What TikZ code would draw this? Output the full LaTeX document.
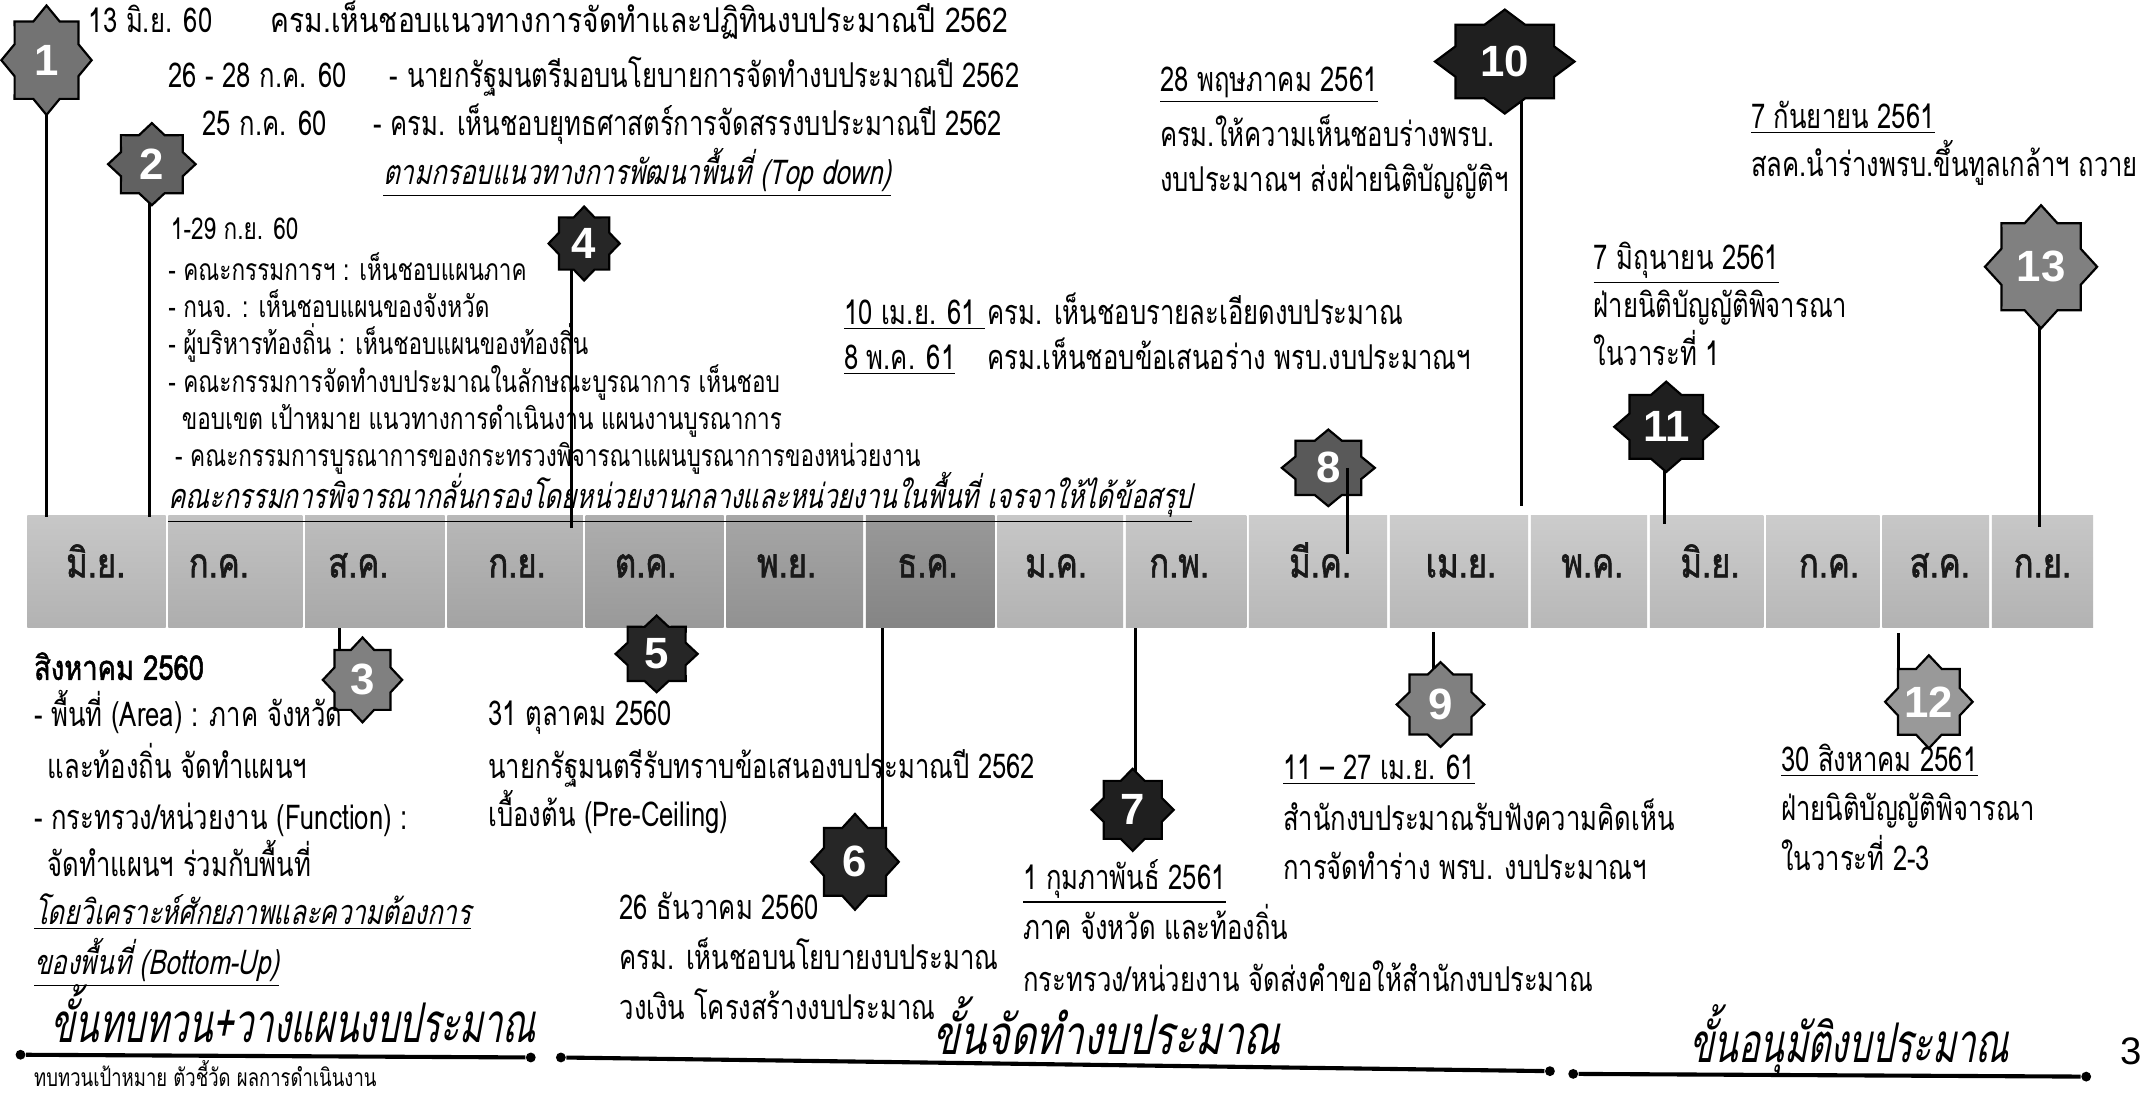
\documentclass[tikz,border=0pt]{standalone}
\usepackage{fontspec}
\usepackage{graphicx}
\newfontfamily\thai[Script=Thai,FakeStretch=0.75]{Loma}
\newfontfamily\thaiit[Script=Thai,FakeStretch=0.75,FakeSlant=0.22]{Loma}
\newfontfamily\thaibf[Script=Thai,FakeStretch=0.8,FakeBold=1.5]{Loma}
\newfontfamily\numf{Liberation Sans}
\usetikzlibrary{calc}
\tikzset{
 base/.style={anchor=base west,inner sep=0pt,outer sep=0pt,text height=7pt,text depth=2pt},
 txt/.style={base,font=\thai\fontsize{12.5}{14}\selectfont},
 lst/.style={base,font=\thai\fontsize{11}{13}\selectfont},
 itl/.style={base,font=\thaiit\fontsize{12.5}{14}\selectfont},
 bigt/.style={base,text height=9pt,font=\thaiit\fontsize{20}{22}\selectfont},
 smallt/.style={base,font=\thai\fontsize{9}{11}\selectfont},
 mon/.style={anchor=base,inner sep=0pt,text height=8pt,text depth=1pt,font=\thaibf\fontsize{15}{17}\selectfont,text=black!90},
 num/.style={inner sep=0pt,text=white,font=\numf\bfseries\fontsize{16}{18}\selectfont},
 stem/.style={line width=1.1pt},
 phase/.style={line width=1.5pt},
 enddot/.style={circle,fill=black,inner sep=0pt,minimum size=3.6pt},
}
\newcommand\starpoly[5]{%
 \begin{scope}[shift={(#1,#2)},xscale=#3,yscale=#4]
  \draw[fill=#5,line width=0.8pt,line join=miter] (0:1) -- (22.5:0.765) -- (45:1) -- (67.5:0.765) -- (90:1) -- (112.5:0.765) -- (135:1) -- (157.5:0.765) -- (180:1) -- (202.5:0.765) -- (225:1) -- (247.5:0.765) -- (270:1) -- (292.5:0.765) -- (315:1) -- (337.5:0.765) -- cycle;
 \end{scope}}
\newcommand\mycell[4]{\shade[top color=black!#3,bottom color=black!#4] (#1,377) rectangle (#2,459);}
\begin{document}
\begin{tikzpicture}[x=0.5pt,y=-0.5pt]
\useasboundingbox (0,0) rectangle (1568,800);
\fill[white] (0,0) rectangle (1568,800);
% ---------- month band ----------
\mycell{20}{121}{22}{30}
\mycell{123}{221}{24}{32}
\mycell{223}{325}{26}{34}
\mycell{327}{426}{28}{36}
\mycell{428}{529}{32}{40}
\mycell{531}{631}{35}{43}
\mycell{633}{727}{40}{48}
\mycell{729}{821}{22}{30}
\mycell{823}{911}{22}{30}
\mycell{913}{1014}{20}{28}
\mycell{1016}{1117}{20}{28}
\mycell{1119}{1204}{20}{28}
\mycell{1206}{1289}{20}{28}
\mycell{1291}{1374}{20}{28}
\mycell{1376}{1454}{22}{30}
\mycell{1456}{1530}{22}{30}
\node[mon] (m1) at (70,422) {มิ.ย.};
\node[mon] (m2) at (160,422) {ก.ค.};
\node[mon] (m3) at (262,422) {ส.ค.};
\node[mon] (m4) at (378,422) {ก.ย.};
\node[mon] (m5) at (472,422) {ต.ค.};
\node[mon] (m6) at (575,422) {พ.ย.};
\node[mon] (m7) at (678,422) {ธ.ค.};
\node[mon] (m8) at (772,422) {ม.ค.};
\node[mon] (m9) at (862,422) {ก.พ.};
\node[mon] (m10) at (965,422) {มี.ค.};
\node[mon] (m11) at (1068,422) {เม.ย.};
\node[mon] (m12) at (1164,422) {พ.ค.};
\node[mon] (m13) at (1250,422) {มิ.ย.};
\node[mon] (m14) at (1337,422) {ก.ค.};
\node[mon] (m15) at (1418,422) {ส.ค.};
\node[mon] (m16) at (1493,422) {ก.ย.};
% ---------- stems ----------
\coordinate (c1) at (34,44);   \coordinate (b1) at (34,378);
\coordinate (c2) at (109,120); \coordinate (b2) at (109,378);
\coordinate (c3) at (248,490); \coordinate (b3) at (248,459);
\coordinate (c4) at (418,180); \coordinate (b4) at (418,386);
\coordinate (c6) at (645,625); \coordinate (b6) at (645,459);
\coordinate (c7) at (830,590); \coordinate (b7) at (830,459);
\coordinate (c9) at (1048,510); \coordinate (b9) at (1048,462);
\coordinate (c10) at (1112,50); \coordinate (b10) at (1112,370);
\coordinate (c11) at (1217,312); \coordinate (b11) at (1217,383);
\coordinate (c12) at (1388,500); \coordinate (b12) at (1388,463);
\coordinate (c13) at (1491,200); \coordinate (b13) at (1491,385);
\foreach \i in {1,2,3,4,6,7,9,10,11,12,13} {\draw[stem] (c\i) -- (b\i);}
% ---------- stars ----------
\starpoly{34}{44}{33}{40}{black!55}
\starpoly{111}{120}{32}{30}{black!62}
\starpoly{265}{497}{29}{31}{black!50}
\starpoly{427}{178}{26}{27}{black!85}
\starpoly{480}{478}{30}{28}{black!85}
\starpoly{625}{630}{32}{35}{black!85}
\starpoly{828}{592}{30}{30}{black!88}
\starpoly{971}{342}{34}{28}{black!65}
\starpoly{1053}{515}{32}{31}{black!50}
\starpoly{1100}{45}{51}{38}{black!88}
\starpoly{1218}{312}{38}{33}{black!88}
\starpoly{1410}{513}{32}{34}{black!40}
\starpoly{1492}{195}{41}{45}{black!50}
\node[num] (s1) at (34,44) {1};
\node[num] (s2) at (111,120) {2};
\node[num] (s3) at (265,497) {3};
\node[num] (s4) at (427,178) {4};
\node[num] (s5) at (480,478) {5};
\node[num] (s6) at (625,630) {6};
\node[num] (s7) at (828,592) {7};
\node[num] (s8) at (971,342) {8};
\node[num] (s9) at (1053,515) {9};
\node[num] (s10) at (1100,45) {10};
\node[num] (s11) at (1218,312) {11};
\node[num] (s12) at (1410,513) {12};
\node[num] (s13) at (1492,195) {13};
\coordinate (c8) at (985,342);
\coordinate (b8) at (985,405);
\draw[stem] (c8) -- (b8);
% ---------- top-left texts ----------
\node[txt] (t1a) at (65,24) {13 มิ.ย. 60};
\node[txt] (t1b) at (198,24) {\scalebox{1.1}[1]{ครม.เห็นชอบแนวทางการจัดทำและปฏิทินงบประมาณปี 2562}};
\node[txt] (t2a) at (123,64) {26 - 28 ก.ค. 60};
\node[txt] (t2b) at (285,64) {- นายกรัฐมนตรีมอบนโยบายการจัดทำงบประมาณปี 2562};
\node[txt] (t3a) at (148,99) {25 ก.ค. 60};
\node[txt] (t3b) at (273,99) {- ครม. เห็นชอบยุทธศาสตร์การจัดสรรงบประมาณปี 2562};
\node[itl] (t4) at (280,135) {\underline{ตามกรอบแนวทางการพัฒนาพื้นที่ (Top down)}};
\node[lst] (u0) at (125,175) {1-29 ก.ย. 60};
\node[lst] (u1) at (123,205) {- คณะกรรมการฯ : เห็นชอบแผนภาค};
\node[lst] (u2) at (123,232) {- กนจ. : เห็นชอบแผนของจังหวัด};
\node[lst] (u3) at (123,259) {- ผู้บริหารท้องถิ่น : เห็นชอบแผนของท้องถิ่น};
\node[lst] (u4) at (123,287) {- คณะกรรมการจัดทำงบประมาณในลักษณะบูรณาการ เห็นชอบ};
\node[lst] (u5) at (133,314) {ขอบเขต เป้าหมาย แนวทางการดำเนินงาน แผนงานบูรณาการ};
\node[lst] (u6) at (128,341) {- คณะกรรมการบูรณาการของกระทรวงพิจารณาแผนบูรณาการของหน่วยงาน};
\node[itl] (u7) at (123,372) {\underline{คณะกรรมการพิจารณากลั่นกรองโดยหน่วยงานกลางและหน่วยงานในพื้นที่ เจรจาให้ได้ข้อสรุป}};
% ---------- top-middle ----------
\node[txt] (v1a) at (617,237) {\underline{10 เม.ย. 61\ }};
\node[txt] (v1b) at (722,237) {ครม. เห็นชอบรายละเอียดงบประมาณ};
\node[txt] (v2a) at (617,270) {\underline{8 พ.ค. 61}};
\node[txt] (v2b) at (722,270) {ครม.เห็นชอบข้อเสนอร่าง พรบ.งบประมาณฯ};
\node[txt] (w1) at (848,67) {\underline{28 พฤษภาคม 2561}};
\node[txt] (w2) at (848,107) {ครม.ให้ความเห็นชอบร่างพรบ.};
\node[txt] (w3) at (848,140) {งบประมาณฯ ส่งฝ่ายนิติบัญญัติฯ};
\node[txt] (x1) at (1165,197) {\underline{7 มิถุนายน 2561}};
\node[txt] (x2) at (1165,232) {ฝ่ายนิติบัญญัติพิจารณา};
\node[txt] (x3) at (1165,267) {ในวาระที่ 1};
\node[txt] (y1) at (1280,94) {\underline{7 กันยายน 2561}};
\node[txt] (y2) at (1280,129) {สลค.นำร่างพรบ.ขึ้นทูลเกล้าฯ ถวาย};
% ---------- bottom texts ----------
\node[base,font=\thaibf\fontsize{12.5}{14}\selectfont] (g1) at (25,497) {สิงหาคม 2560};
\node[txt] (g2) at (25,531) {- พื้นที่ (Area) : ภาค จังหวัด};
\node[txt] (g3) at (35,569) {และท้องถิ่น จัดทำแผนฯ};
\node[txt] (g4) at (25,606) {- กระทรวง/หน่วยงาน (Function) :};
\node[txt] (g5) at (35,641) {จัดทำแผนฯ ร่วมกับพื้นที่};
\node[itl] (g6) at (25,676) {\underline{โดยวิเคราะห์ศักยภาพและความต้องการ}};
\node[itl] (g7) at (25,712) {\underline{ของพื้นที่ (Bottom-Up)}};
\node[txt] (h1) at (357,530) {31 ตุลาคม 2560};
\node[txt] (h2) at (357,569) {นายกรัฐมนตรีรับทราบข้อเสนองบประมาณปี 2562};
\node[txt] (h3) at (357,604) {เบื้องต้น (Pre-Ceiling)};
\node[txt] (i1) at (453,672) {26 ธันวาคม 2560};
\node[txt] (i2) at (453,709) {ครม. เห็นชอบนโยบายงบประมาณ};
\node[txt] (i3) at (453,745) {วงเงิน โครงสร้างงบประมาณ};
\node[txt] (j1) at (748,650) {\underline{1 กุมภาพันธ์ 2561}};
\node[txt] (j2) at (748,687) {ภาค จังหวัด และท้องถิ่น};
\node[txt] (j3) at (748,725) {กระทรวง/หน่วยงาน จัดส่งคำขอให้สำนักงบประมาณ};
\node[txt] (k1) at (938,570) {\underline{11 – 27 เม.ย. 61}};
\node[txt] (k2) at (938,607) {สำนักงบประมาณรับฟังความคิดเห็น};
\node[txt] (k3) at (938,643) {การจัดทำร่าง พรบ. งบประมาณฯ};
\node[txt] (l1) at (1302,564) {\underline{30 สิงหาคม 2561}};
\node[txt] (l2) at (1302,600) {ฝ่ายนิติบัญญัติพิจารณา};
\node[txt] (l3) at (1302,636) {ในวาระที่ 2-3};
% ---------- phases ----------
\node[bigt] (ph1) at (37,762) {\scalebox{0.865}[1]{ขั้นทบทวน+วางแผนงบประมาณ}};
\node[bigt] (ph2) at (682,771) {\scalebox{0.96}[1]{ขั้นจัดทำงบประมาณ}};
\node[bigt] (ph3) at (1235,777) {\scalebox{0.87}[1]{ขั้นอนุมัติงบประมาณ}};
\node[enddot] (p1a) at (15,771) {};
\node[enddot] (p1b) at (388,773) {};
\node[enddot] (p2a) at (410,773) {};
\node[enddot] (p2b) at (1133,783) {};
\node[enddot] (p3a) at (1150,785) {};
\node[enddot] (p3b) at (1525,787) {};
\draw[phase] (p1a) -- (p1b);
\draw[phase] (p2a) -- (p2b);
\draw[phase] (p3a) -- (p3b);
\node[smallt] (sm) at (25,794) {ทบทวนเป้าหมาย ตัวชี้วัด ผลการดำเนินงาน};
\node[base,font=\numf\fontsize{14}{16}\selectfont] (pg) at (1550,778) {3};
\end{tikzpicture}
\end{document}
